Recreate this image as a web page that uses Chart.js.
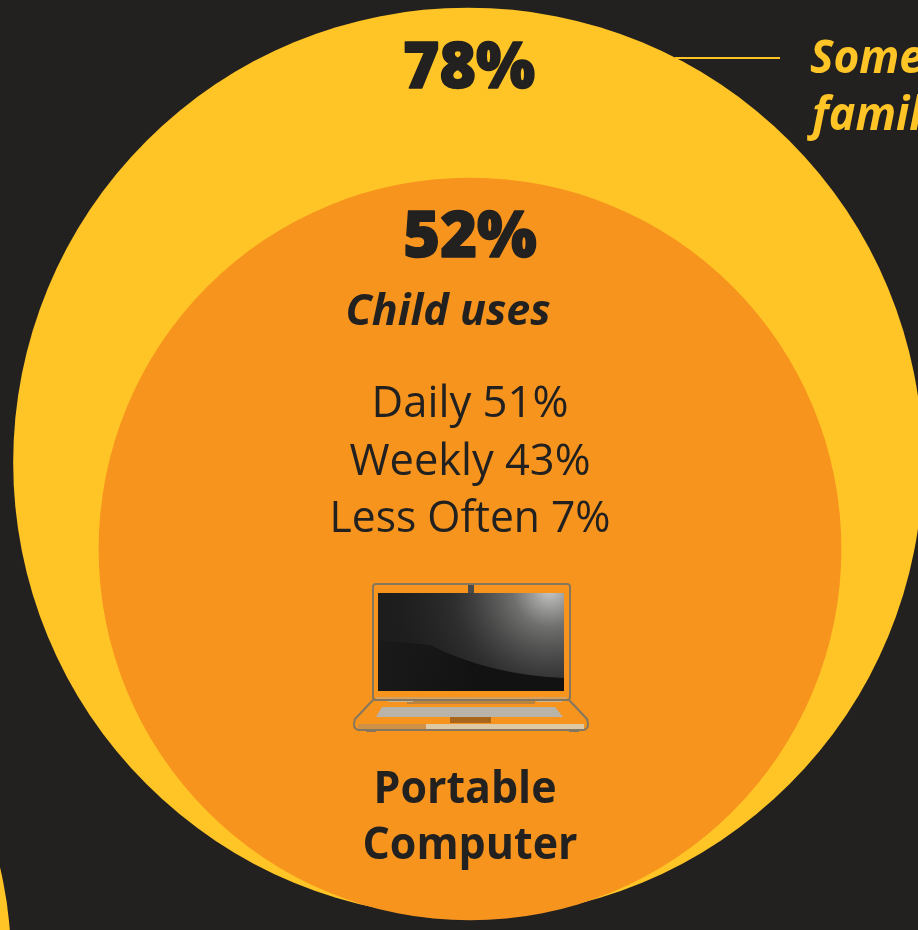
<!DOCTYPE html>
<html>
<head>
<meta charset="utf-8">
<title>Portable Computer</title>
<script src="https://cdn.jsdelivr.net/npm/chart.js@4"></script>
<style>
    html, body { margin: 0; padding: 0; background: #222120; overflow: hidden; }
    canvas { display: block; }
</style>
</head>
<body>
<canvas id="deviceChart" width="918" height="930"></canvas>
<script>
// values (the cut off circle at bottom left is an estimate)
const shares = [52, 78, 60];
const shareLabels = ['Child uses', 'Some family', 'Next device'];
const frequencyLabels = ['Daily', 'Weekly', 'Less Often'];
const frequencyValues = [51, 43, 7];
const deviceName = ['Portable', 'Computer'];

// layout
const YELLOW = '#ffc425';
const ORANGE = '#f7941e';
const DARK = '#222120';
const HEAVY = '"Open Sans", "Noto Sans", sans-serif';
const radiusPerRootShare = 51.5;
const centers = [{ x: 470, y: 549 }, { x: 468, y: 462.5 }, { x: -388, y: 960 }];
const colors = [ORANGE, YELLOW, YELLOW];

function writeText(ctx, text, x, y, font, color, maxWidth, align) {
    ctx.font = font;
    ctx.fillStyle = color;
    ctx.textAlign = align || 'center';
    ctx.textBaseline = 'alphabetic';
    if (maxWidth) {
        ctx.fillText(text, x, y, maxWidth);
    } else {
        ctx.fillText(text, x, y);
    }
}

// the big percentages are heavier than the heaviest installed weight
function writeHeavyText(ctx, text, x, y, maxWidth) {
    writeText(ctx, text, x, y, '800 63px ' + HEAVY, DARK, maxWidth);
    ctx.strokeStyle = DARK;
    ctx.lineWidth = 1.5;
    ctx.lineJoin = 'round';
    ctx.strokeText(text, x, y, maxWidth);
}

function drawLaptop(ctx) {
    ctx.save();
    // base
    ctx.fillStyle = ORANGE;
    ctx.strokeStyle = '#85775f';
    ctx.lineWidth = 2;
    ctx.beginPath();
    ctx.moveTo(373, 700);
    ctx.lineTo(569, 700);
    ctx.lineTo(587, 719);
    ctx.quadraticCurveTo(590, 728, 584, 730);
    ctx.lineTo(358, 730);
    ctx.quadraticCurveTo(352, 728, 355, 719);
    ctx.closePath();
    ctx.fill();
    ctx.stroke();
    ctx.fillStyle = '#ddc9a6';
    ctx.fillRect(426, 724, 158, 5);
    ctx.fillStyle = '#cf9145';
    ctx.fillRect(358, 724, 68, 5);
    ctx.fillStyle = '#85775f';
    ctx.fillRect(366, 730, 10, 2);
    ctx.fillRect(569, 730, 10, 2);
    // hinge
    ctx.fillStyle = '#b9843f';
    ctx.fillRect(407, 701, 128, 3);
    ctx.fillStyle = '#c9b79a';
    ctx.fillRect(388, 699, 25, 3);
    ctx.fillRect(537, 699, 25, 3);
    // keyboard
    ctx.fillStyle = '#b9b4aa';
    ctx.beginPath();
    ctx.moveTo(382, 707);
    ctx.lineTo(555, 707);
    ctx.lineTo(563, 717);
    ctx.lineTo(376, 717);
    ctx.closePath();
    ctx.fill();
    // trackpad
    ctx.fillStyle = '#a8651b';
    ctx.fillRect(450, 717, 41, 6);
    // lid
    ctx.fillStyle = ORANGE;
    ctx.beginPath();
    ctx.roundRect(373, 584, 197, 116, 3);
    ctx.fill();
    ctx.stroke();
    ctx.fillStyle = '#d9a25c';
    ctx.fillRect(376, 697, 191, 2);
    // screen
    ctx.fillStyle = '#1d1d1d';
    ctx.fillRect(378, 593, 186, 98);
    const glow = ctx.createRadialGradient(550, 590, 4, 550, 590, 170);
    glow.addColorStop(0, 'rgba(190, 190, 188, 1)');
    glow.addColorStop(0.2, 'rgba(120, 120, 119, 0.9)');
    glow.addColorStop(0.55, 'rgba(60, 60, 60, 0.6)');
    glow.addColorStop(1, 'rgba(30, 30, 30, 0)');
    ctx.fillStyle = glow;
    ctx.fillRect(378, 593, 186, 98);
    const shade = ctx.createLinearGradient(378, 0, 470, 0);
    shade.addColorStop(0, 'rgba(17, 18, 17, 0.3)');
    shade.addColorStop(1, 'rgba(17, 18, 17, 1)');
    ctx.fillStyle = shade;
    ctx.beginPath();
    ctx.moveTo(378, 640);
    ctx.lineTo(430, 645);
    ctx.quadraticCurveTo(490, 675, 564, 678);
    ctx.lineTo(564, 691);
    ctx.lineTo(378, 691);
    ctx.closePath();
    ctx.fill();
    // camera
    ctx.fillStyle = '#4a4a48';
    ctx.fillRect(468, 585, 6, 8);
    ctx.restore();
}

const labelPlugin = {
    id: 'labelPlugin',
    afterDraw(chart) {
        const ctx = chart.ctx;
        ctx.save();
        writeHeavyText(ctx, shares[1] + '%', 469, 88, 132);
        writeHeavyText(ctx, shares[0] + '%', 470, 257, 134);
        writeText(ctx, shareLabels[0], 448, 325, 'italic 700 43px ' + HEAVY, DARK, 207);
        frequencyLabels.forEach(function(label, i) {
            const widths = [197, 241, 281];
            writeText(ctx, label + ' ' + frequencyValues[i] + '%', 470, 417 + i * 57.5, '44px ' + HEAVY, DARK, widths[i]);
        });
        writeText(ctx, deviceName[0], 465, 803, '700 44px ' + HEAVY, DARK, 183);
        writeText(ctx, deviceName[1], 470, 859, '700 44px ' + HEAVY, DARK, 215);
        const words = shareLabels[1].split(' ');
        writeText(ctx, words[0], 810, 73, 'italic 700 46px ' + HEAVY, YELLOW, 114, 'left');
        writeText(ctx, words[1], 812, 130, 'italic 700 46px ' + HEAVY, YELLOW, 134, 'left');
        drawLaptop(ctx);
        ctx.restore();
    }
};

const ctx = document.getElementById('deviceChart').getContext('2d');
const deviceChart = new Chart(ctx, {
    type: 'bubble',
    data: {
        datasets: shares.map(function(share, i) {
            return {
                label: shareLabels[i],
                data: [{ x: centers[i].x, y: centers[i].y, r: radiusPerRootShare * Math.sqrt(share) }],
                backgroundColor: colors[i],
                borderWidth: 0,
                clip: false
            };
        }).concat([{
            // leader line from the big circle to its label
            type: 'line',
            label: 'leader',
            data: [{ x: 675, y: 58 }, { x: 780, y: 58 }],
            borderColor: YELLOW,
            borderWidth: 2,
            pointRadius: 0
        }])
    },
    plugins: [labelPlugin],
    options: {
        responsive: false,
        animation: false,
        events: [],
        // big bubbles would otherwise squeeze the chart area
        layout: { padding: 0, autoPadding: false },
        plugins: {
            legend: { display: false },
            tooltip: { enabled: false }
        },
        scales: {
            x: { type: 'linear', min: 0, max: 918, display: false },
            y: { type: 'linear', min: 0, max: 930, reverse: true, display: false }
        }
    }
});
</script>
</body>
</html>
